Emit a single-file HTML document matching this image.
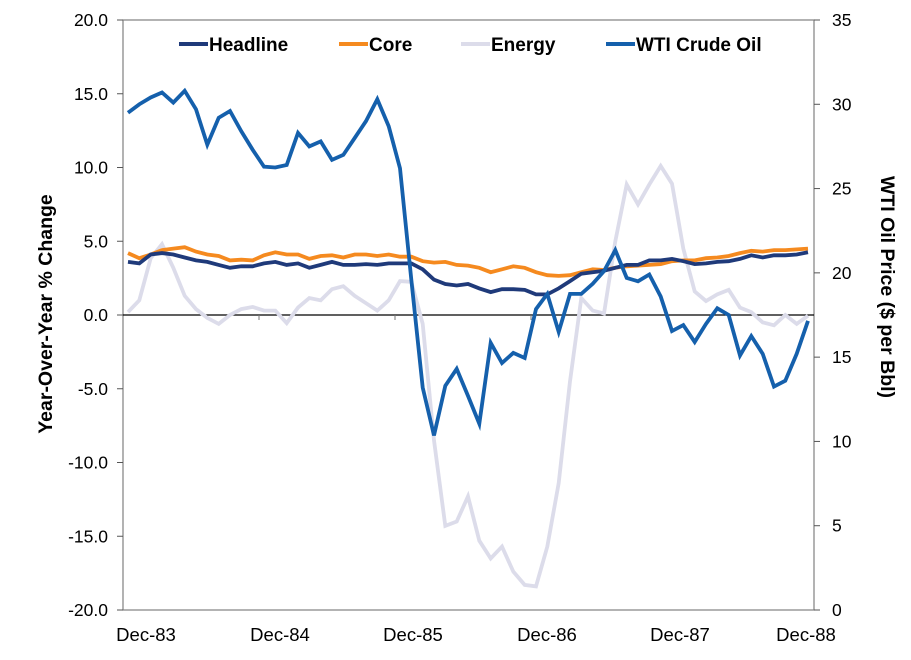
<!DOCTYPE html>
<html><head><meta charset="utf-8"><style>
body{margin:0;background:#fff;}
svg{display:block;font-family:"Liberation Sans",Arial,sans-serif;}
</style></head><body>
<svg id="chart" width="911" height="660" viewBox="0 0 911 660">
<g id="grid"></g>
<g id="series"></g>
<g id="legend"></g>
</svg>
<script>
const months = Array.from({length:61},(_, i)=>i); // Dec-83 .. Dec-88 monthly
const xLabels = ["Dec-83","Dec-84","Dec-85","Dec-86","Dec-87","Dec-88"];
const leftTicks = [20,15,10,5,0,-5,-10,-15,-20];
const rightTicks = [35,30,25,20,15,10,5,0];
const headline = [3.6,3.5,4.1,4.2,4.1,3.9,3.7,3.6,3.4,3.2,3.3,3.3,3.5,3.6,3.4,3.5,3.2,3.4,3.6,3.4,3.4,3.45,3.4,3.5,3.5,3.5,3.1,2.4,2.1,2.0,2.1,1.8,1.55,1.75,1.75,1.7,1.4,1.4,1.8,2.3,2.8,2.9,3.0,3.2,3.4,3.4,3.7,3.7,3.8,3.65,3.45,3.5,3.6,3.65,3.8,4.05,3.9,4.05,4.05,4.1,4.25];
const core = [4.2,3.85,4.1,4.4,4.5,4.6,4.3,4.1,4.0,3.7,3.75,3.7,4.05,4.25,4.1,4.1,3.8,4.0,4.05,3.9,4.1,4.1,4.0,4.1,3.95,3.95,3.65,3.55,3.6,3.4,3.35,3.2,2.9,3.1,3.3,3.2,2.9,2.7,2.65,2.7,2.9,3.1,3.05,3.2,3.3,3.35,3.4,3.45,3.65,3.7,3.7,3.85,3.9,4.0,4.2,4.35,4.3,4.4,4.4,4.45,4.5];
const energy = [0.2,1.0,3.85,4.8,3.2,1.3,0.4,-0.2,-0.6,0,0.4,0.55,0.3,0.3,-0.55,0.5,1.15,1.0,1.75,1.95,1.3,0.8,0.3,1.0,2.3,2.25,-0.6,-8.5,-14.3,-14.0,-12.3,-15.3,-16.5,-15.7,-17.4,-18.3,-18.4,-15.7,-11.4,-4.5,1.15,0.3,0.1,5.0,8.85,7.5,8.85,10.1,8.9,4.5,1.6,0.95,1.4,1.7,0.5,0.2,-0.5,-0.7,0,-0.6,-0.05];
const wti = [29.5,30.0,30.4,30.7,30.1,30.8,29.7,27.6,29.2,29.6,28.4,27.3,26.3,26.25,26.4,28.3,27.5,27.8,26.7,27.0,28.0,29.0,30.3,28.7,26.2,19.6,13.2,10.35,13.3,14.3,12.7,11.05,15.85,14.65,15.25,14.95,17.85,18.75,16.5,18.75,18.75,19.35,20.1,21.35,19.7,19.5,19.9,18.6,16.55,16.9,15.9,16.97,17.9,17.5,15.1,16.25,15.2,13.25,13.6,15.2,17.15];

const NS="http://www.w3.org/2000/svg";
const L=123,R=814,T=20,B=610;
const xS=i=>128+i*(808-128)/60;
const yL=v=>T+(20-v)*(B-T)/40;
const yR=v=>T+(35-v)*(B-T)/35;
function mk(tag,attrs,parent,text){const e=document.createElementNS(NS,tag);for(const k in attrs)e.setAttribute(k,attrs[k]);if(text!==undefined)e.textContent=text;parent.appendChild(e);return e;}
const g=document.getElementById('grid');
let e;
e=mk('rect',{x:L,y:T,width:R-L,height:B-T,fill:'none',stroke:'#808080','stroke-width':1.2},g);


leftTicks.forEach(v=>{
 e=mk('line',{x1:L-6,x2:L,y1:yL(v),y2:yL(v),stroke:'#555'},g);
 
 
 e=mk('text',{x:108,y:yL(v)+6,'text-anchor':'end','font-size':17.5,fill:'#000'},g,v.toFixed(1));
 
 
});
rightTicks.forEach(v=>{
 e=mk('line',{x1:R,x2:R+6,y1:yR(v),y2:yR(v),stroke:'#555'},g);
 
 
 e=mk('text',{x:832,y:yR(v)+6,'text-anchor':'start','font-size':17.5,fill:'#000'},g,String(v));
 
 
});
e=mk('line',{x1:L,x2:R,y1:yL(0),y2:yL(0),stroke:'#000','stroke-width':1.3},g);


for(let k=1;k<5;k++){
 const x=L+k*136;
 e=mk('line',{x1:x,x2:x,y1:yL(0),y2:yL(0)+5,stroke:'#777'},g);
 
 
}
const labX=[146,280,413,547,680,806];
xLabels.forEach((t,k)=>{
 e=mk('text',{x:labX[k],y:641,'text-anchor':'middle','font-size':18.5,fill:'#000'},g,t);
 
 
});
e=mk('text',{x:0,y:0,transform:'translate(52,314) rotate(-90)','text-anchor':'middle','font-size':19.5,'font-weight':'bold',fill:'#000'},g,'Year-Over-Year % Change');


e=mk('text',{x:0,y:0,transform:'translate(881,287) rotate(90)','text-anchor':'middle','font-size':19.5,'font-weight':'bold',fill:'#000'},g,'WTI Oil Price ($ per Bbl)');



const s=document.getElementById('series');
function line(arr,ys,color,name){
 const d=arr.map((v,i)=>(i?'L':'M')+xS(i).toFixed(1)+','+ys(v).toFixed(1)).join(' ');
 const p=mk('path',{d:d,fill:'none',stroke:color,'stroke-width':3.8,'stroke-linejoin':'miter'},s);
 
 
}
line(energy,yL,'#DCDCEA','energy-line');
line(core,yL,'#F58A1F','core-line');
line(headline,yL,'#1F3A7A','headline-line');
line(wti,yR,'#1560AC','wti-crude-oil-line');

const lg=document.getElementById('legend');
const items=[['Headline','#1F3A7A',179],['Core','#F58A1F',339],['Energy','#DCDCEA',461],['WTI Crude Oil','#1560AC',606]];
items.forEach(([t,c,x])=>{
 e=mk('line',{x1:x,x2:x+29,y1:44,y2:44,stroke:c,'stroke-width':4},lg);
 
 
 e=mk('text',{x:x+30,y:51,'font-size':19,'font-weight':'bold',fill:'#000'},lg,t);
 
 
});
</script>
</body></html>
